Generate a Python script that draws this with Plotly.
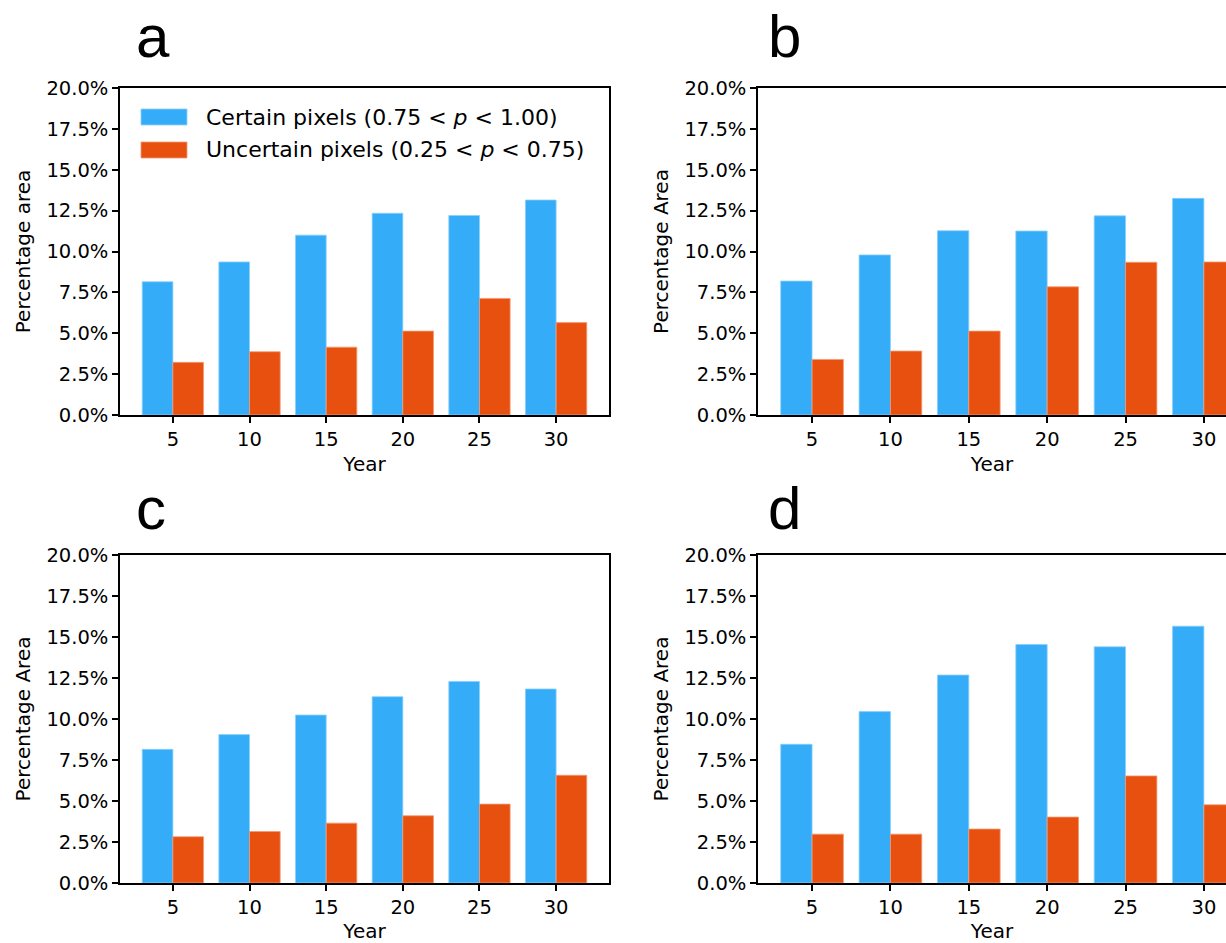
import plotly.graph_objects as go

# ---------------- data ----------------
years = [5, 10, 15, 20, 25, 30]

certain_a = [8.15, 9.36, 11.00, 12.34, 12.20, 13.15]
uncertain_a = [3.22, 3.87, 4.15, 5.13, 7.13, 5.65]

certain_b = [8.19, 9.79, 11.27, 11.25, 12.18, 13.25]
uncertain_b = [3.40, 3.91, 5.13, 7.84, 9.34, 9.36]

certain_c = [8.15, 9.05, 10.24, 11.36, 12.29, 11.83]
uncertain_c = [2.82, 3.14, 3.65, 4.10, 4.81, 6.57]

certain_d = [8.46, 10.45, 12.68, 14.54, 14.40, 15.66]
uncertain_d = [2.98, 2.98, 3.29, 4.02, 6.53, 4.77]

y_tick_values = [0, 2.5, 5, 7.5, 10, 12.5, 15, 17.5, 20]
y_tick_labels = ["0.0%", "2.5%", "5.0%", "7.5%", "10.0%", "12.5%", "15.0%", "17.5%", "20.0%"]
x_tick_labels = ["5", "10", "15", "20", "25", "30"]

panel_letters = ["a", "b", "c", "d"]
y_titles = ["Percentage area", "Percentage Area", "Percentage Area", "Percentage Area"]
x_title = "Year"
legend_labels = ["Certain pixels (0.75 < <i>p</i> < 1.00)",
                 "Uncertain pixels (0.25 < <i>p</i> < 0.75)"]

# ---------------- style ----------------
W, H = 1226, 943
BLUE = "#35ACF8"
ORANGE = "#E8500F"
BLUE_EDGE = "#8ACFFB"
ORANGE_EDGE = "#F29A74"
FONT = "DejaVu Sans"

# plot areas in pixels: (left, right, top, bottom)
boxes = [
    (120, 609, 88, 415),
    (758, 1226, 88, 415),
    (120, 609, 555, 883),
    (758, 1226, 555, 883),
]
x_ranges = [[1.55, 33.45], [1.55, 31.41], [1.55, 33.45], [1.55, 31.41]]
mirror_y = [True, False, True, False]


def fx(x):
    return x / W


def fy(y):
    return 1 - y / H


series = [(certain_a, uncertain_a), (certain_b, uncertain_b),
          (certain_c, uncertain_c), (certain_d, uncertain_d)]

fig = go.Figure()
for i, (cert, unc) in enumerate(series):
    sfx = "" if i == 0 else str(i + 1)
    fig.add_trace(go.Bar(
        x=years, y=cert, name=legend_labels[0],
        width=2, offset=-2,
        marker=dict(color=BLUE, line=dict(color=BLUE_EDGE, width=0.8)),
        xaxis="x" + sfx, yaxis="y" + sfx, showlegend=False,
    ))
    fig.add_trace(go.Bar(
        x=years, y=unc, name=legend_labels[1],
        width=2, offset=0,
        marker=dict(color=ORANGE, line=dict(color=ORANGE_EDGE, width=0.8)),
        xaxis="x" + sfx, yaxis="y" + sfx, showlegend=False,
    ))

layout = dict(
    template="none",
    width=W, height=H,
    margin=dict(l=0, r=0, t=0, b=0, pad=0),
    paper_bgcolor="white", plot_bgcolor="white",
    barmode="overlay",
    font=dict(family=FONT, size=20, color="black"),
    showlegend=False,
)

for i, (l, r, t, b) in enumerate(boxes):
    sfx = "" if i == 0 else str(i + 1)
    layout["xaxis" + sfx] = dict(
        domain=[fx(l), fx(r)], anchor="y" + sfx,
        range=x_ranges[i], automargin=False,
        tickmode="array", tickvals=years, ticktext=x_tick_labels,
        ticks="outside", ticklen=6, tickwidth=1.5, tickcolor="black",
        showline=True, linecolor="black", linewidth=1.5, mirror=True,
        showgrid=False, zeroline=False,
        tickfont=dict(family=FONT, size=19.5),
        title=dict(text=x_title, font=dict(family=FONT, size=20), standoff=7),
    )
    layout["yaxis" + sfx] = dict(
        domain=[fy(b), fy(t)], anchor="x" + sfx,
        range=[0, 20], automargin=False,
        tickmode="array", tickvals=y_tick_values, ticktext=y_tick_labels,
        ticks="outside", ticklen=6, tickwidth=1.5, tickcolor="black",
        showline=True, linecolor="black", linewidth=1.5, mirror=mirror_y[i],
        showgrid=False, zeroline=False,
        tickfont=dict(family=FONT, size=19.5),
        title=dict(text=y_titles[i], font=dict(family=FONT, size=20), standoff=10),
    )

fig.update_layout(**layout)

# panel letters
letter_pos = [(134, 36), (766, 36), (134, 508), (766, 508)]
for letter, (px, py) in zip(panel_letters, letter_pos):
    fig.add_annotation(
        text=letter, x=fx(px), y=fy(py), xref="paper", yref="paper",
        xanchor="left", yanchor="middle", showarrow=False,
        font=dict(family="Liberation Sans", size=60, color="black"),
    )

# legend (panel a)
legend_rows = [(117, BLUE, BLUE_EDGE), (150, ORANGE, ORANGE_EDGE)]
for label, (cy, col, edge) in zip(legend_labels, legend_rows):
    fig.add_shape(
        type="rect", xref="paper", yref="paper",
        x0=fx(141), x1=fx(187), y0=fy(cy + 8), y1=fy(cy - 8),
        fillcolor=col, line=dict(color=edge, width=0.8),
    )
    fig.add_annotation(
        text=label, x=fx(204), y=fy(cy), xref="paper", yref="paper",
        xanchor="left", yanchor="middle", showarrow=False,
        font=dict(family=FONT, size=22, color="black"),
    )

fig.write_html(
    "out.html",
    config={"displayModeBar": False},
    post_script="document.body.style.margin='0';document.body.style.overflow='hidden';",
)
